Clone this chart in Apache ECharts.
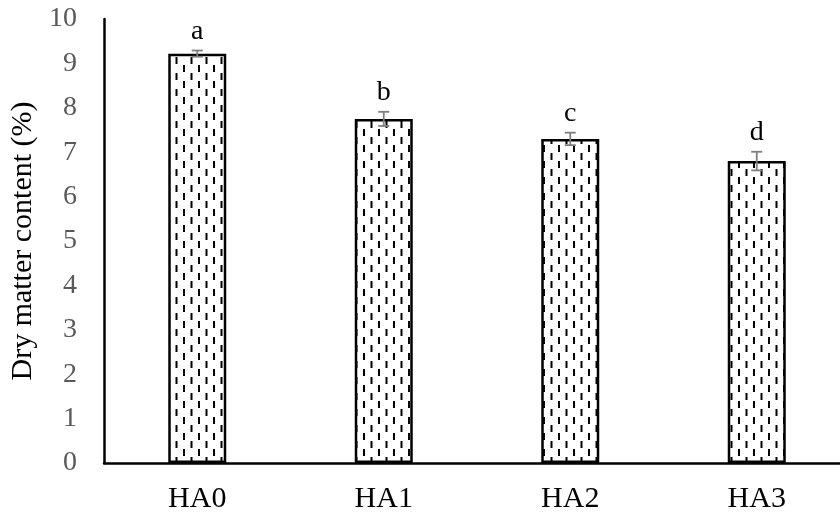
<!DOCTYPE html>
<html>
<head>
<meta charset="utf-8">
<style>html,body{margin:0;padding:0;background:#fff}#c{width:840px;height:514px}</style>
<script src="https://cdn.jsdelivr.net/npm/echarts@6/dist/echarts.min.js"></script>
</head>
<body>
<div id="c"></div>
<script>
const categories = ['HA0', 'HA1', 'HA2', 'HA3'];
const values = [9.22, 7.75, 7.30, 6.80];
const errors = [0.07, 0.16, 0.14, 0.21];
const letters = ['a', 'b', 'c', 'd'];
const yTicks = [0, 1, 2, 3, 4, 5, 6, 7, 8, 9, 10];

// pattern: staggered short vertical dashes
const pc = document.createElement('canvas');
pc.width = 15; pc.height = 16;
const g = pc.getContext('2d');
g.fillStyle = '#fff'; g.fillRect(0, 0, 15, 16);
g.fillStyle = '#000';
g.fillRect(3, 1, 2, 7);
g.fillRect(10.5, 9, 2, 7);

const chart = echarts.init(document.getElementById('c'));
const FONT = '"Liberation Serif", "Times New Roman", serif';
chart.setOption({
  animation: false,
  grid: { left: 104, right: -10, top: 19, bottom: 51, outerBoundsMode: 'none', containLabel: false },
  xAxis: {
    type: 'category', data: categories,
    axisLine: { lineStyle: { color: '#000', width: 2.5 } },
    axisTick: { show: false },
    axisLabel: { color: '#000', fontFamily: FONT, fontSize: 30, margin: 21 }
  },
  yAxis: {
    type: 'value', min: yTicks[0], max: yTicks[yTicks.length - 1], interval: 1,
    name: 'Dry matter content (%)', nameLocation: 'middle', nameGap: 64,
    nameTextStyle: { color: '#000', fontFamily: FONT, fontSize: 30 },
    axisLine: { show: true, lineStyle: { color: '#000', width: 2.5 } },
    axisTick: { show: false },
    splitLine: { show: false },
    axisLabel: { color: '#595959', fontFamily: FONT, fontSize: 28, margin: 27 }
  },
  series: [
    {
      type: 'bar', data: values, barWidth: 58,
      itemStyle: { color: { image: pc, repeat: 'repeat' }, borderColor: '#000', borderWidth: 2.5 }
    },
    {
      type: 'custom',
      data: values.map((v, i) => [i, v, errors[i], letters[i]]),
      renderItem: function (params, api) {
        const i = api.value(0), v = api.value(1), e = api.value(2);
        const top = api.coord([i, v + e]);
        const bot = api.coord([i, v - e]);
        const hw = 5.5;
        const st = { stroke: '#7f7f7f', lineWidth: 1.8 };
        return {
          type: 'group',
          children: [
            { type: 'line', shape: { x1: top[0], y1: top[1], x2: bot[0], y2: bot[1] }, style: st },
            { type: 'line', shape: { x1: top[0] - hw, y1: top[1], x2: top[0] + hw, y2: top[1] }, style: st },
            { type: 'line', shape: { x1: bot[0] - hw, y1: bot[1], x2: bot[0] + hw, y2: bot[1] }, style: st },
            { type: 'text', style: { text: letters[params.dataIndex], x: top[0], y: top[1] - 5, align: 'center', verticalAlign: 'bottom', fill: '#000', font: '28px ' + FONT } }
          ]
        };
      },
      z: 5
    }
  ]
});
</script>
</body>
</html>
